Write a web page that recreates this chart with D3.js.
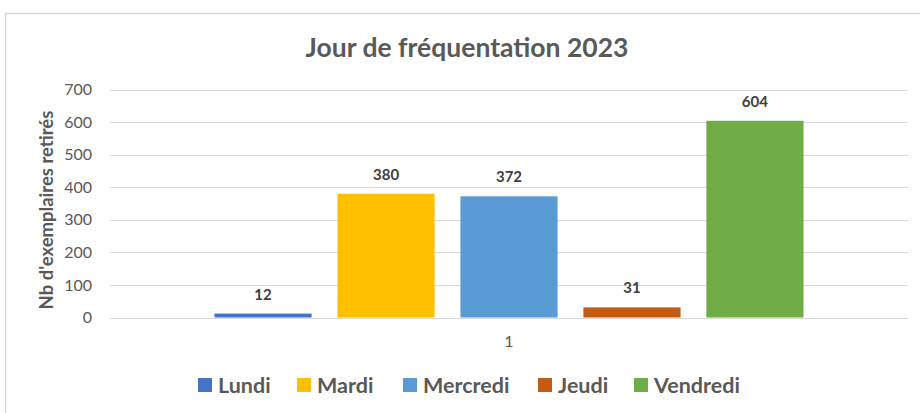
<!DOCTYPE html>
<html>
<head>
<meta charset="utf-8">
<script src="https://cdn.jsdelivr.net/npm/d3@7"></script>
<style>
  body { margin: 0; background: #fff; }
  text { font-family: Lato, "Open Sans", sans-serif; }
</style>
</head>
<body>
<div class="chart"></div>
<script>
// data
var categories = ["1"];
var series = ["Lundi", "Mardi", "Mercredi", "Jeudi", "Vendredi"];
var values = [12, 380, 372, 31, 604];
var colors = ["#4472C4", "#FFC000", "#5B9BD5", "#C55A11", "#70AD47"];
var yTicks = [0, 100, 200, 300, 400, 500, 600, 700];

var width = 920, height = 413;
var margin = {top: 89.5, right: 12, bottom: 95.5, left: 110};

var svg = d3.select(".chart").append("svg")
  .attr("width", width)
  .attr("height", height);

// chart border
svg.append("rect")
  .attr("x", 5.5).attr("y", 13.5)
  .attr("width", 1000).attr("height", 500)
  .attr("fill", "none")
  .attr("stroke", "#d9d9d9")
  .attr("stroke-width", 1.5);

var x0 = d3.scaleBand()
  .domain(categories)
  .range([margin.left, width - margin.right])
  .paddingOuter(0.1774);

var x1 = d3.scaleBand()
  .domain(series)
  .range([0, x0.bandwidth()])
  .paddingInner(0.21);

var y = d3.scaleLinear()
  .domain([0, 700])
  .range([height - margin.bottom, margin.top]);

// gridlines
svg.append("g")
  .selectAll("line")
  .data(yTicks)
  .enter().append("line")
    .attr("x1", margin.left)
    .attr("x2", width - margin.right)
    .attr("y1", function(d){ return Math.round(y(d)) + 0.5; })
    .attr("y2", function(d){ return Math.round(y(d)) + 0.5; })
    .attr("stroke", "#d9d9d9")
    .attr("stroke-width", 1);

// y axis labels
var yAxis = d3.axisLeft(y).tickValues(yTicks).tickSize(0).tickPadding(0);
var gy = svg.append("g")
  .attr("transform", "translate(92,0)")
  .call(yAxis);
gy.select(".domain").remove();
gy.selectAll("text")
  .attr("fill", "#595959")
  .style("font-size", "16px")
  .style("font-family", "Lato, sans-serif");

// x axis label
var xAxis = d3.axisBottom(x0).tickSize(0).tickPadding(0);
var gx = svg.append("g")
  .attr("transform", "translate(0," + (height - margin.bottom + 18) + ")")
  .call(xAxis);
gx.select(".domain").remove();
gx.selectAll("text")
  .attr("fill", "#595959")
  .style("font-size", "16px")
  .style("font-family", "Lato, sans-serif");

// bars
var grp = svg.append("g")
  .attr("transform", "translate(" + x0("1") + ",0)");

grp.selectAll(".bar")
  .data(series)
  .enter().append("rect")
    .attr("class", "bar")
    .attr("x", function(d){ return x1(d); })
    .attr("y", function(d, i){ return y(values[i]); })
    .attr("width", x1.bandwidth())
    .attr("height", function(d, i){ return y(0) - y(values[i]); })
    .attr("fill", function(d, i){ return colors[i]; });

// data labels
grp.selectAll(".lbl")
  .data(series)
  .enter().append("text")
    .attr("class", "lbl")
    .attr("x", function(d){ return x1(d) + x1.bandwidth() / 2; })
    .attr("y", function(d, i){ return y(values[i]) - 14; })
    .attr("text-anchor", "middle")
    .attr("fill", "#404040")
    .style("font-size", "15px")
    .style("font-weight", "bold")
    .text(function(d, i){ return values[i]; });

// title
svg.append("text")
  .attr("x", 467)
  .attr("y", 57)
  .attr("text-anchor", "middle")
  .attr("fill", "#595959")
  .style("font-size", "26.5px")
  .style("font-weight", "bold")
  .text("Jour de fréquentation 2023");

// y title
svg.append("text")
  .attr("transform", "translate(53,210) rotate(-90)")
  .attr("text-anchor", "middle")
  .attr("fill", "#595959")
  .style("font-size", "18.5px")
  .style("font-weight", "bold")
  .text("Nb d'exemplaires retirés");

// legend
var legendX = [198, 297, 403, 538, 634];
var leg = svg.append("g").selectAll("g")
  .data(series)
  .enter().append("g")
    .attr("transform", function(d, i){ return "translate(" + legendX[i] + ",378)"; });

leg.append("rect")
  .attr("width", 14).attr("height", 14)
  .attr("fill", function(d, i){ return colors[i]; });

leg.append("text")
  .attr("x", 20)
  .attr("y", 14.5)
  .attr("fill", "#595959")
  .style("font-size", "21.5px")
  .style("font-weight", "bold")
  .text(function(d){ return d; });
</script>
</body>
</html>
